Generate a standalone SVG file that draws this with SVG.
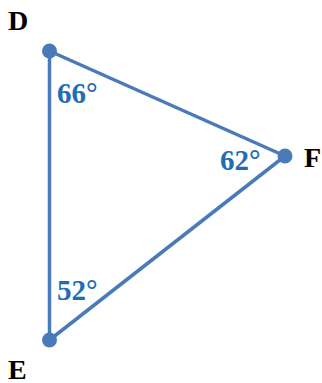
<svg xmlns="http://www.w3.org/2000/svg" width="322" height="383" viewBox="0 0 322 383">
<style>
.edge{stroke:#4a7ab8;stroke-width:3.5;fill:none;stroke-linejoin:round}
.pt{fill:#4a7ab8}
.vl{font-family:"Liberation Serif",serif;font-weight:bold;font-size:28px;fill:#000}
.ang{font-family:"Liberation Serif",serif;font-weight:bold;font-size:29px;fill:#1f6db5}
</style>
<rect width="322" height="383" fill="#fff"/>
<g id="connectors">
<line class="edge" x1="49.5" y1="51" x2="285" y2="156"/>
<line class="edge" x1="285" y1="156" x2="49.5" y2="340"/>
<line class="edge" x1="49.5" y1="340" x2="49.5" y2="51"/>
</g>
<g id="D"><circle class="pt" cx="49.5" cy="51" r="7.5"/><text class="vl" x="8" y="30">D</text><text class="ang" x="57" y="103">66°</text></g>
<g id="F"><circle class="pt" cx="285" cy="156" r="7.5"/><text class="vl" x="304" y="167">F</text><text class="ang" x="220" y="170">62°</text></g>
<g id="E"><circle class="pt" cx="49.5" cy="340" r="7.5"/><text class="vl" x="8" y="379">E</text><text class="ang" x="57" y="300">52°</text></g>
</svg>
